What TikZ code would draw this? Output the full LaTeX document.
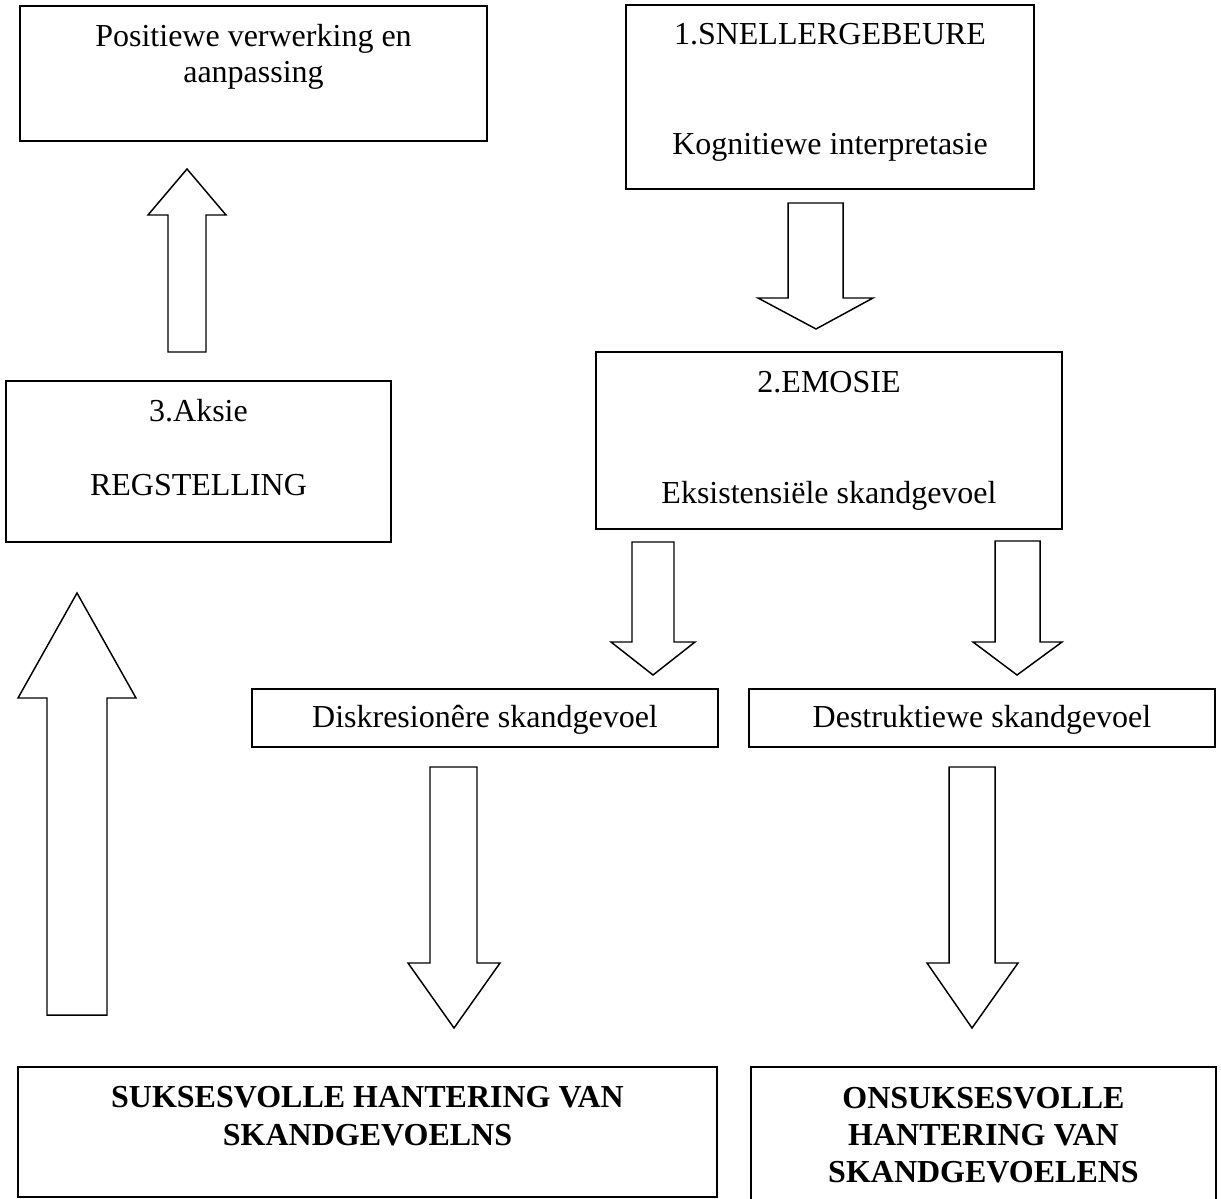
\documentclass[tikz,border=0pt]{standalone}
\usepackage{fontspec}
\setmainfont{Liberation Serif}
\usetikzlibrary{fit}
\begin{document}
\begin{tikzpicture}[x=0.375pt,y=-0.375pt,
  box/.style={draw, line width=0.65pt, rectangle, inner sep=0pt},
  txt/.style={font=\fontsize{12}{14}\selectfont, inner sep=0pt, anchor=base},
  btxt/.style={font=\fontsize{12}{14}\selectfont\bfseries, inner sep=0pt, anchor=base},
  blk/.style={draw, line width=0.55pt, line join=miter}]
\useasboundingbox (0,0) rectangle (1221,1198);
\fill[white] (0,0) rectangle (1221,1198);

% boxes
\node[box, fit={(20,6) (487,141)}] (pos) {};
\node[txt] (pos1) at (253.5,47) {Positiewe verwerking en};
\node[txt] (pos2) at (253.5,83) {aanpassing};

\node[box, fit={(626,5) (1034,189)}] (snel) {};
\node[txt] (snel1) at (830,45) {1.SNELLERGEBEURE};
\node[txt] (snel2) at (830,155) {Kognitiewe interpretasie};

\node[box, fit={(596,352) (1062,529)}] (emo) {};
\node[txt] (emo1) at (829,392) {2.EMOSIE};
\node[txt] (emo2) at (829,503) {Eksistensiële skandgevoel};

\node[box, fit={(6,381) (391,542)}] (aks) {};
\node[txt] (aks1) at (198.5,421) {3.Aksie};
\node[txt] (aks2) at (198.5,495) {REGSTELLING};

\node[box, fit={(252,689) (718,747)}] (disk) {};
\node[txt] (disk1) at (485,727) {Diskresionêre skandgevoel};

\node[box, fit={(749,689) (1215,747)}] (dest) {};
\node[txt] (dest1) at (982,727) {Destruktiewe skandgevoel};

\node[box, fit={(18,1067) (717,1197)}] (suk) {};
\node[btxt] (suk1) at (367.5,1107) {SUKSESVOLLE HANTERING VAN};
\node[btxt] (suk2) at (367.5,1145) {SKANDGEVOELNS};

\node[box, fit={(751,1067) (1216,1210)}] (onsuk) {};
\node[btxt] (onsuk1) at (983.5,1108) {ONSUKSESVOLLE};
\node[btxt] (onsuk2) at (983.5,1145) {HANTERING VAN};
\node[btxt] (onsuk3) at (983.5,1182) {SKANDGEVOELENS};

% block arrows
\draw[blk] (168,352) -- (168,215) -- (148,215) -- (187,169) -- (226,215) -- (206,215) -- (206,352) -- cycle;
\draw[blk] (788,203) -- (843,203) -- (843,298) -- (873,298) -- (816,329) -- (758,298) -- (788,298) -- cycle;
\draw[blk] (632,542) -- (674,542) -- (674,642) -- (695,642) -- (653,675) -- (611,642) -- (632,642) -- cycle;
\draw[blk] (995,541) -- (1040,541) -- (1040,642) -- (1062,642) -- (1017,675) -- (973,642) -- (995,642) -- cycle;
\draw[blk] (47,1015) -- (47,698) -- (18,698) -- (77,593) -- (136,698) -- (107,698) -- (107,1015) -- cycle;
\draw[blk] (430,767) -- (477,767) -- (477,963) -- (500,963) -- (454,1028) -- (408,963) -- (430,963) -- cycle;
\draw[blk] (949,767) -- (995,767) -- (995,963) -- (1018,963) -- (972,1028) -- (927,963) -- (949,963) -- cycle;
\end{tikzpicture}
\end{document}
